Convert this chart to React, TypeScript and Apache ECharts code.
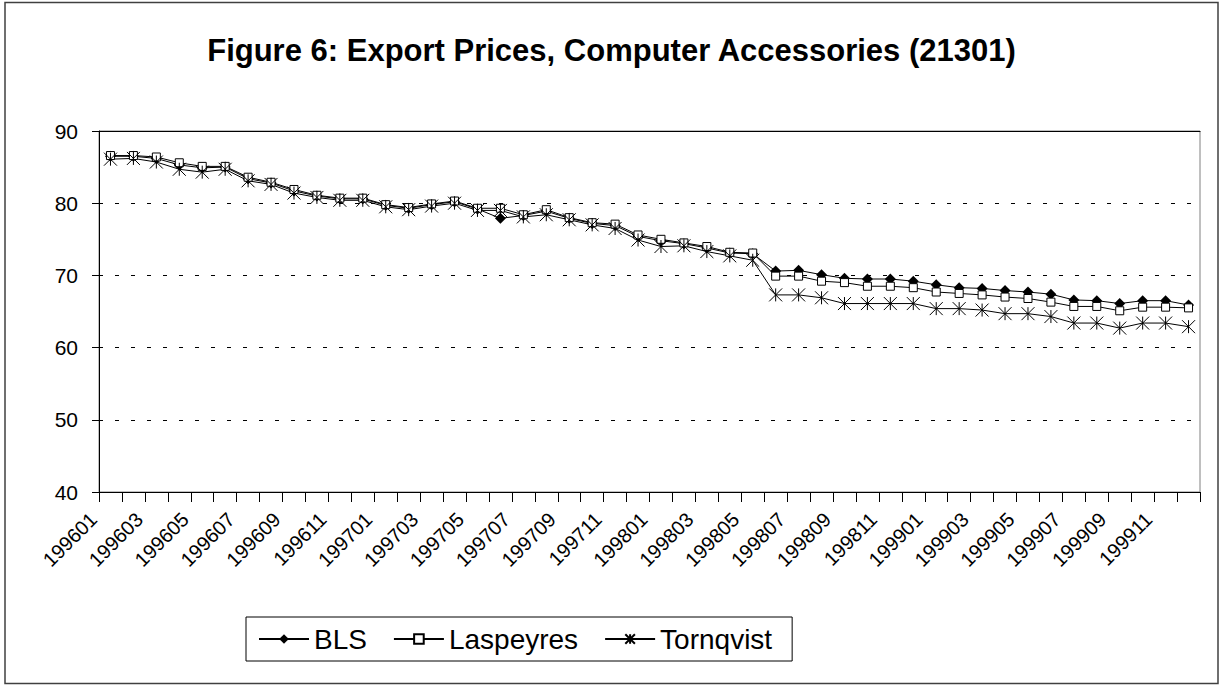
import React, { useEffect, useRef } from 'react';
import * as echarts from 'echarts';

const categories = [
  '199601', '199602', '199603', '199604', '199605', '199606', '199607', '199608', '199609', '199610', '199611', '199612',
  '199701', '199702', '199703', '199704', '199705', '199706', '199707', '199708', '199709', '199710', '199711', '199712',
  '199801', '199802', '199803', '199804', '199805', '199806', '199807', '199808', '199809', '199810', '199811', '199812',
  '199901', '199902', '199903', '199904', '199905', '199906', '199907', '199908', '199909', '199910', '199911', '199912',
];

const bls = [
  86.5, 86.5, 86.2, 85.3, 84.9, 85.0, 83.4, 82.8, 81.7, 81.0, 80.6, 80.6,
  79.7, 79.3, 79.8, 80.2, 79.2, 77.9, 78.3, 78.9, 77.9, 77.2, 76.9, 75.4,
  74.8, 74.4, 73.8, 73.1, 73.0, 70.6, 70.7, 70.1, 69.6, 69.5, 69.5, 69.2,
  68.7, 68.3, 68.2, 67.9, 67.7, 67.4, 66.6, 66.5, 66.1, 66.5, 66.5, 65.9,
];

const laspeyres = [
  86.6, 86.6, 86.4, 85.6, 85.1, 85.1, 83.6, 82.9, 81.9, 81.1, 80.7, 80.7,
  79.8, 79.4, 79.9, 80.3, 79.3, 79.3, 78.4, 79.1, 78.0, 77.3, 77.1, 75.6,
  75.0, 74.5, 74.0, 73.2, 73.1, 69.9, 69.9, 69.2, 69.0, 68.5, 68.5, 68.3,
  67.7, 67.5, 67.3, 67.0, 66.8, 66.3, 65.7, 65.7, 65.1, 65.6, 65.6, 65.5,
];

const tornqvist = [
  86.1, 86.2, 85.7, 84.7, 84.3, 84.7, 83.1, 82.6, 81.4, 80.8, 80.4, 80.4,
  79.5, 79.1, 79.6, 80.0, 79.0, 79.0, 78.1, 78.4, 77.7, 77.0, 76.5, 74.9,
  74.0, 74.1, 73.3, 72.7, 72.1, 67.3, 67.3, 66.9, 66.1, 66.1, 66.1, 66.1,
  65.4, 65.4, 65.2, 64.7, 64.7, 64.3, 63.4, 63.4, 62.7, 63.4, 63.4, 62.9,
];

const seriesNames = ['BLS', 'Laspeyres', 'Tornqvist'];
const titleText = 'Figure 6: Export Prices, Computer Accessories (21301)';

const FONT = 'Arial, "Liberation Sans", Helvetica, sans-serif';
const STAR = 'path://M0,0L10,10M10,0L0,10M5,0L5,10';

export default function App() {
  const ref = useRef<HTMLDivElement>(null);

  useEffect(() => {
    if (!ref.current) return;
    const chart = echarts.init(ref.current, null, { renderer: 'svg' });
    chart.setOption({
      animation: false,
      backgroundColor: '#ffffff',
      title: {
        text: titleText,
        left: 'center',
        top: 30,
        textStyle: { fontFamily: FONT, fontSize: 31, fontWeight: 'bold', color: '#000' },
      },
      grid: {
        left: 99,
        right: 23,
        top: 131,
        bottom: 195,
        show: true,
        borderColor: '#808080',
        borderWidth: 1,
        backgroundColor: 'transparent',
      },
      legend: {
        data: seriesNames,
        left: 246,
        top: 617,
        orient: 'horizontal',
        itemWidth: 50,
        itemHeight: 12,
        itemGap: 26,
        padding: [8, 20, 8, 12],
        borderColor: '#000',
        borderWidth: 1,
        textStyle: { fontFamily: FONT, fontSize: 28, color: '#000' },
      },
      xAxis: [
        {
          type: 'category',
          data: categories,
          boundaryGap: true,
          axisLine: { lineStyle: { color: '#000', width: 1 } },
          axisTick: { show: true, interval: 0, length: 10, lineStyle: { color: '#000' } },
          axisLabel: {
            interval: 1,
            rotate: 45,
            fontSize: 20,
            fontFamily: FONT,
            color: '#000',
            margin: 7,
            padding: [0, 24, 0, 0],
          },
          splitLine: { show: false },
        },
        {
          type: 'category',
          data: categories,
          position: 'top',
          axisLine: { show: true, lineStyle: { color: '#000', width: 1 } },
          axisTick: { show: false },
          axisLabel: { show: false },
          splitLine: { show: false },
        },
      ],
      yAxis: {
        type: 'value',
        min: 40,
        max: 90,
        interval: 10,
        axisLine: { show: true, lineStyle: { color: '#000', width: 1 } },
        axisTick: { show: true, length: 7, lineStyle: { color: '#000' } },
        axisLabel: { fontSize: 21, fontFamily: FONT, color: '#000', margin: 21 },
        splitLine: { show: true, lineStyle: { color: '#000', type: [4, 12], width: 1 } },
      },
      graphic: [
        {
          type: 'rect',
          silent: true,
          z: -1,
          shape: { x: 5, y: 2.5, width: 1213, height: 681 },
          style: { fill: 'none', stroke: '#404040', lineWidth: 1.5 },
        },
      ],
      series: [
        {
          name: seriesNames[0],
          type: 'line',
          data: bls,
          symbol: 'diamond',
          symbolSize: 11,
          showAllSymbol: true,
          lineStyle: { color: '#000', width: 1 },
          itemStyle: { color: '#000' },
        },
        {
          name: seriesNames[1],
          type: 'line',
          data: laspeyres,
          symbol: 'rect',
          symbolSize: [8, 8],
          showAllSymbol: true,
          lineStyle: { color: '#000', width: 1 },
          itemStyle: { color: '#fff', borderColor: '#000', borderWidth: 1 },
        },
        {
          name: seriesNames[2],
          type: 'line',
          data: tornqvist,
          symbol: STAR,
          symbolSize: 13,
          showAllSymbol: true,
          lineStyle: { color: '#000', width: 1 },
          itemStyle: { color: '#000', borderColor: '#000', borderWidth: 1 },
        },
      ],
    });
    return () => chart.dispose();
  }, []);

  return (
    <div
      ref={ref}
      style={{ position: 'fixed', left: 0, top: 0, width: 1223, height: 687, background: '#fff' }}
    />
  );
}
